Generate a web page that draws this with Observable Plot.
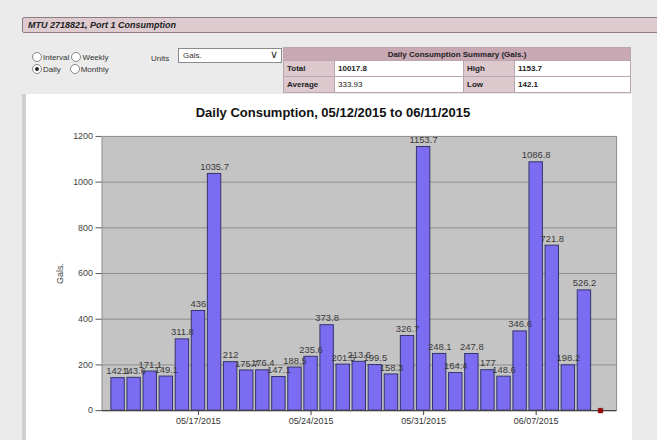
<!DOCTYPE html>
<html>
<head>
<meta charset="utf-8">
<script src="https://cdn.jsdelivr.net/npm/d3@7"></script>
<script src="https://cdn.jsdelivr.net/npm/@observablehq/plot@0.6"></script>
<style>
  html, body { margin: 0; padding: 0; }
  body { width: 657px; height: 440px; background: #ebebeb; position: relative; overflow: hidden;
         font-family: "Liberation Sans", Arial, sans-serif; color: #222; }
  .abs { position: absolute; }
  #hdr { left: 22px; top: 17px; width: 631px; height: 14px; background: #ddcbd0; border: 1px solid #8d7d83;
         border-radius: 2px; font-size: 9px; font-weight: bold; font-style: italic; line-height: 14px; padding-left: 5px; box-sizing: content-box; }
  .radio { display: inline-block; width: 8px; height: 8px; border: 1px solid #888; border-radius: 50%; background: #fff;
           vertical-align: -2px; margin-right: 1px; position: relative; }
  .radio.on::after { content: ""; position: absolute; left: 2px; top: 2px; width: 4px; height: 4px; border-radius: 50%; background: #222; }
  .ctl { font-size: 8px; color: #333; }
  #sel { left: 178px; top: 48px; width: 104px; height: 15px; background: #fff; border: 1px solid #8a8a8a; box-sizing: border-box;
         font-size: 8px; line-height: 13px; padding-left: 4px; color: #333; }
  #sel span { position: absolute; right: 3px; top: -1px; font-size: 11px; color: #333; }
  table { position: absolute; left: 283px; top: 47px; width: 348px; border-collapse: collapse; font-size: 8px; font-weight: bold; }
  td { border: 1px solid #b8a8ad; height: 15px; padding: 0 3px; }
  td.h { background: #c8a8b3; text-align: center; height: 12px; }
  td.l { background: #dcc8cd; }
  td.v { background: #fff; }
  #panel { left: 22px; top: 94px; width: 610px; height: 346px; background: #fff; border-left: 4px solid #cfcfcf; box-sizing: border-box; }
  #title { left: 0; top: 11px; width: 100%; text-align: center; font-size: 13px; font-weight: bold; color: #111; padding-left: 8px; box-sizing: border-box; }
  #chart { left: -4px; top: 31px; }
</style>
</head>
<body>
<script>
// ---- data ----
const dayStrings = ["2015-05-12","2015-05-13","2015-05-14","2015-05-15","2015-05-16","2015-05-17","2015-05-18",
  "2015-05-19","2015-05-20","2015-05-21","2015-05-22","2015-05-23","2015-05-24","2015-05-25",
  "2015-05-26","2015-05-27","2015-05-28","2015-05-29","2015-05-30","2015-05-31","2015-06-01",
  "2015-06-02","2015-06-03","2015-06-04","2015-06-05","2015-06-06","2015-06-07","2015-06-08",
  "2015-06-09","2015-06-10","2015-06-11"];
const gallons = [142.1, 143.6, 171.1, 149.1, 311.8, 436, 1035.7, 212, 175.7, 176.4, 147.1, 188.5, 235.6, 373.8,
  201.5, 213.6, 199.5, 158.3, 326.7, 1153.7, 248.1, 164.4, 247.8, 177, 148.6, 346.6, 1086.8, 721.8,
  198.2, 526.2, null];
const yTicks = [0, 200, 400, 600, 800, 1000, 1200];
const xTickStrings = ["2015-05-17", "2015-05-24", "2015-05-31", "2015-06-07"];
const summaryLabels = ["Total", "Average", "High", "Low"];
const summaryValues = ["10017.8", "333.93", "1153.7", "142.1"];
const titleText = "Daily Consumption, 05/12/2015 to 06/11/2015";
const headerText = "MTU 2718821, Port 1 Consumption";
const domainStrings = ["2015-05-11", "2015-06-12"];
</script>

<div id="hdr" class="abs"></div>
<div class="abs ctl" style="left:32px; top:52px;"><span class="radio"></span>Interval <span class="radio"></span>Weekly</div>
<div class="abs ctl" style="left:32px; top:64px;"><span class="radio on"></span>Daily &nbsp;&nbsp; <span class="radio"></span>Monthly</div>
<div class="abs ctl" style="left:151px; top:54px;">Units</div>
<div id="sel" class="abs">Gals.<span>&#8744;</span></div>
<table id="tbl"></table>
<div id="panel" class="abs">
  <div id="title" class="abs"></div>
  <div id="chart" class="abs"></div>
</div>

<script>
const parse = d3.timeParse("%Y-%m-%d");
document.getElementById("hdr").textContent = headerText;
document.getElementById("title").textContent = titleText;
document.getElementById("tbl").innerHTML =
  `<tr><td class="h" colspan="4">Daily Consumption Summary (Gals.)</td></tr>` +
  `<tr><td class="l" style="width:44px">${summaryLabels[0]}</td><td class="v" style="width:122px">${summaryValues[0]}</td><td class="l" style="width:44px">${summaryLabels[2]}</td><td class="v">${summaryValues[2]}</td></tr>` +
  `<tr><td class="l">${summaryLabels[1]}</td><td class="v" style="font-weight:normal">${summaryValues[1]}</td><td class="l">${summaryLabels[3]}</td><td class="v">${summaryValues[3]}</td></tr>`;

const rows = dayStrings.map((s, i) => ({date: parse(s), value: gallons[i]}));
const present = rows.filter(d => d.value != null);
const missing = rows.filter(d => d.value == null);
const xTicks = xTickStrings.map(parse);
const fmt = d3.timeFormat("%m/%d/%Y");

const chart = Plot.plot({
  width: 614,
  height: 315,
  marginLeft: 80,
  marginRight: 16,
  marginTop: 11,
  marginBottom: 28,
  style: {fontFamily: "'Liberation Sans', Arial, sans-serif", fontSize: "9px", color: "#333", background: "transparent"},
  x: {type: "time", domain: domainStrings.map(parse)},
  y: {domain: [0, 1200]},
  marks: [
    Plot.frame({fill: "#c4c4c4", stroke: "#8c8c8c"}),
    Plot.gridY(yTicks.filter(t => t > 0 && t < 1200), {stroke: "#8e8e8e", strokeOpacity: 1}),
    Plot.rectY(present, {
      x1: d => d3.timeHour.offset(d.date, -10),
      x2: d => d3.timeHour.offset(d.date, 10),
      y: "value",
      fill: "#7b6cf2", stroke: "#34346a", strokeWidth: 1
    }),
    Plot.text(present, {x: "date", y: "value", text: d => String(d.value), dy: -7, fill: "#3a3a3a", fontSize: 9.5}),
    Plot.ruleY([0], {stroke: "#444", strokeWidth: 1.2}),
    Plot.dot(missing, {x: "date", y: () => 0, symbol: "square", r: 2.6, fill: "#a00000", stroke: "#600000", strokeWidth: 0.5}),
    Plot.axisY(yTicks, {tickSize: 6, tickPadding: 3, stroke: "#555", fill: "#444", tickFormat: d => String(d), label: "Gals.", labelAnchor: "center", labelArrow: "none", labelOffset: 46}),
    Plot.axisX(xTicks, {tickSize: 5, tickPadding: 2, stroke: "#444", fill: "#333", tickFormat: fmt, label: null})
  ]
});
document.getElementById("chart").appendChild(chart);
</script>
</body>
</html>
